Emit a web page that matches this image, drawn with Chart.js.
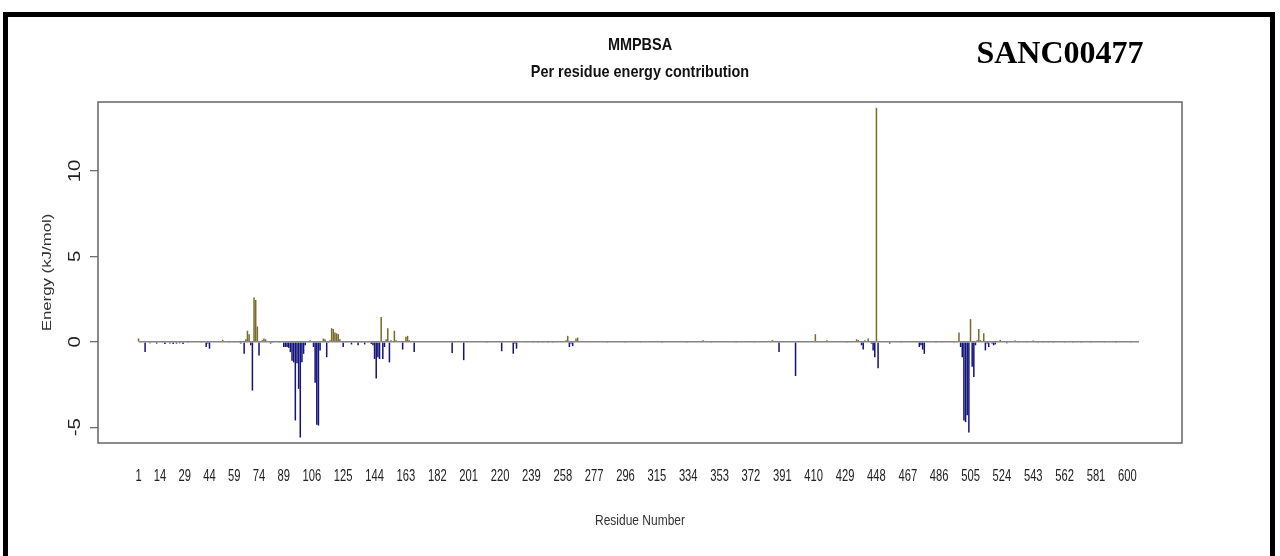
<!DOCTYPE html>
<html>
<head>
<meta charset="utf-8">
<script src="https://cdn.jsdelivr.net/npm/chart.js@4.4.1/dist/chart.umd.min.js"></script>
<style>
  html, body { margin: 0; padding: 0; background: #fff; }
  #wrap { position: relative; width: 1280px; height: 556px; overflow: hidden; background: #fff; }
  #chart { position: absolute; left: 0; top: 0; }
  #frame { position: absolute; left: 3px; top: 12px; width: 1272px; height: 570px; border: 5px solid #000; box-sizing: border-box; pointer-events: none; }
</style>
</head>
<body>
<div id="wrap">
  <canvas id="chart" width="1280" height="556"></canvas>
  <div id="frame"></div>
</div>
<script>
// per residue energy (kJ/mol), residues 1..607, ten per row
const energy = [
  0.2, 0, 0.05, 0, -0.6, 0, 0, -0.08, 0, 0,
  0, -0.1, 0, 0, -0.05, 0, -0.12, 0, 0, -0.1,
  0, -0.12, 0, -0.1, 0, -0.08, 0, -0.12, 0, 0.05,
  -0.05, 0, 0, 0, 0.05, 0, 0, 0, -0.05, 0,
  0, -0.3, -0.1, -0.4, 0, 0, 0.03, 0, 0, 0,
  0, 0.12, 0.05, 0, 0, -0.05, 0, 0, -0.05, 0,
  0, -0.05, -0.1, 0, -0.7, 0.15, 0.65, 0.45, -0.2, -2.85,
  2.6, 2.45, 0.9, -0.8, 0.05, 0.1, 0.2, 0.15, 0.05, 0,
  -0.1, -0.05, 0, 0.03, 0, -0.05, 0, 0, -0.3, -0.3,
  -0.3, -0.35, -0.6, -1.1, -1.2, -4.6, -1.25, -2.75, -5.6, -1.2,
  -0.7, -0.2, 0.05, -0.05, 0.1, 0, -0.3, -2.4, -4.85, -4.9,
  -0.5, 0.05, 0.2, 0.15, -0.9, -0.05, 0.1, 0.8, 0.75, 0.55,
  0.5, 0.45, 0.15, 0, -0.3, 0, -0.05, 0, 0, -0.15,
  0, -0.05, 0, -0.2, 0, -0.05, 0, -0.15, 0, -0.05,
  0, -0.12, -0.2, -1.0, -2.15, -0.9, -1.0, 1.45, -1.0, -0.3,
  0.15, 0.8, -1.2, 0.1, 0.05, 0.65, 0.1, 0, 0.05, 0,
  -0.45, 0, 0.3, 0.35, 0.1, 0, 0, -0.6, 0, 0,
  0, 0, 0.03, 0, 0, 0, 0, 0, 0, 0,
  0, 0, 0, 0, 0, 0, 0, 0, 0, 0,
  -0.65, 0, 0, 0, 0, 0, 0, -1.07, 0, 0,
  0, 0, 0, 0, 0.03, 0, 0, 0, 0, 0.05,
  0, -0.05, 0, 0.05, 0, 0, 0, 0, 0, 0,
  -0.55, 0, 0, 0.05, 0, 0, 0, -0.7, -0.1, -0.4,
  0, 0.05, 0, 0, 0, -0.03, 0, 0, 0, -0.05,
  0, 0, -0.05, 0, 0, -0.05, 0, 0, -0.05, 0,
  0, -0.05, 0, 0, 0.03, 0, 0, 0, 0, 0.1,
  0.35, -0.3, -0.1, -0.25, 0.05, 0.2, 0.25, 0, 0, 0,
  0, 0, 0, 0, 0, 0, 0, 0, 0, 0,
  0, 0, 0, 0, -0.05, 0, 0, 0, 0, 0.05,
  0, 0, 0, 0, 0, -0.05, 0, 0, 0, 0.05,
  0, 0, 0, 0, -0.05, 0, 0, 0, 0, 0,
  0, 0.05, 0, 0, 0, 0, 0, -0.05, 0, 0,
  0, 0, 0, 0, 0.05, 0, 0, 0, 0, 0,
  0, 0, -0.05, 0, 0, 0, 0, 0.03, 0, 0,
  0, 0, 0.1, 0.05, 0, 0, 0, -0.05, 0, 0,
  0, 0, 0, 0, 0.03, 0, 0, 0, 0, 0,
  0, 0, -0.05, 0, 0, 0, 0, 0.05, 0, 0,
  0, 0, 0, -0.05, 0, 0, 0, 0, 0, 0,
  0, 0, 0, 0, 0.1, 0, 0, 0, -0.6, 0,
  0, 0, 0, 0, 0.03, 0, 0, 0, -2.0, 0,
  0, 0, 0, 0.05, 0, 0, 0, 0, 0, 0,
  0.45, 0, 0.05, 0, 0, 0, 0, 0.1, 0, 0,
  0, 0, 0, 0, 0.05, 0, 0, 0, 0, -0.05,
  0, 0, 0, 0.05, 0, 0.15, 0.1, 0, -0.2, -0.45,
  0.1, 0.05, 0.2, 0, -0.1, -0.5, -0.9, 13.7, -1.55, 0,
  0, 0.03, 0, 0, 0, -0.1, 0, 0, 0, 0,
  0, 0, -0.05, 0, 0, 0, 0, 0.03, 0, 0,
  0, 0, 0, -0.3, -0.2, -0.45, -0.7, 0, 0, 0.05,
  0, 0, 0, -0.05, 0, 0, 0, -0.05, 0, 0,
  0, 0.05, 0, 0, -0.05, 0, 0.05, 0.55, -0.3, -0.9,
  -4.6, -4.7, -4.3, -5.3, 1.33, -1.45, -2.05, -0.2, 0.1, 0.75,
  0.1, 0.05, 0.5, -0.5, -0.1, -0.3, 0.05, -0.1, -0.2, -0.15,
  0.05, 0, 0.12, 0, 0.05, 0, -0.08, 0, 0, 0.05,
  0, 0.08, 0, -0.05, 0, 0.05, 0, 0, -0.05, 0,
  0, 0, 0.08, 0, 0, -0.05, 0, 0, -0.05, 0,
  0, -0.05, 0, 0, -0.05, 0, 0, 0.03, 0, 0,
  0, -0.05, 0, 0, 0.05, 0, -0.05, 0, 0.05, 0,
  0, -0.05, 0, 0, 0.05, 0, 0, -0.05, 0, 0,
  0, 0, 0.05, 0, 0, -0.05, 0, 0, 0.03, 0,
  0, 0, -0.05, 0, 0, 0, 0.03, 0, 0, 0,
  0, -0.05, 0, 0, 0, 0.03, 0
];
const residues = energy.map((v, i) => i + 1);

const xTickLabels = [1, 14, 29, 44, 59, 74, 89, 106, 125, 144, 163, 182, 201, 220, 239, 258, 277,
  296, 315, 334, 353, 372, 391, 410, 429, 448, 467, 486, 505, 524, 543, 562, 581, 600];
const yTickLabels = [-5, 0, 5, 10];

const OLIVE = '#7a6a2c';
const NAVY = '#14147c';
const SANS = '"Liberation Sans", Arial, sans-serif';

// text squeezed (sx < 1) or stretched along its own direction
function drawText(ctx, text, x, y, font, sx, angle) {
  ctx.save();
  ctx.translate(x, y);
  if (angle) ctx.rotate(angle);
  ctx.scale(sx, 1);
  ctx.font = font;
  ctx.fillText(text, 0, 0);
  ctx.restore();
}

// box, axis labels and the headings
const decorations = {
  id: 'decorations',
  afterDraw(chart) {
    const ctx = chart.ctx;
    const area = chart.chartArea;
    const xScale = chart.scales.x;
    const yScale = chart.scales.y;
    ctx.save();

    ctx.strokeStyle = '#6e6e6e';
    ctx.lineWidth = 1.6;
    ctx.strokeRect(area.left, area.top, area.right - area.left, area.bottom - area.top);

    ctx.textAlign = 'center';
    ctx.textBaseline = 'middle';

    ctx.fillStyle = '#222';
    yScale.ticks.forEach(t => {
      drawText(ctx, String(t.value), 75, yScale.getPixelForValue(t.value), '17px ' + SANS, 1.2, -Math.PI / 2);
    });
    xScale.ticks.forEach(t => {
      drawText(ctx, String(t.value), xScale.getPixelForValue(t.value), 477, '16px ' + SANS, 0.7, 0);
    });

    ctx.fillStyle = '#333';
    drawText(ctx, 'Energy (kJ/mol)', 47.5, (area.top + area.bottom) / 2, '12px ' + SANS, 1.4, -Math.PI / 2);
    drawText(ctx, 'Residue Number', (area.left + area.right) / 2, 521, '15px ' + SANS, 0.8, 0);

    const cx = (area.left + area.right) / 2;
    ctx.fillStyle = '#111';
    drawText(ctx, 'MMPBSA', cx, 45, 'bold 17px ' + SANS, 0.85, 0);
    drawText(ctx, 'Per residue energy contribution', cx, 72, 'bold 17px ' + SANS, 0.85, 0);

    ctx.fillStyle = '#000';
    ctx.textBaseline = 'alphabetic';
    ctx.font = 'bold 32px "Liberation Serif", "Times New Roman", serif';
    ctx.fillText('SANC00477', 1060, 63);

    ctx.restore();
  }
};

new Chart(document.getElementById('chart'), {
  type: 'bar',
  data: {
    datasets: [
      {
        type: 'line',
        data: residues.map(r => ({ x: r, y: 0 })),
        borderColor: '#858585',
        borderWidth: 1.5,
        pointRadius: 0,
        order: 0
      },
      {
        type: 'bar',
        data: residues.map((r, i) => ({ x: r, y: energy[i] })),
        backgroundColor: energy.map(v => v >= 0 ? OLIVE : NAVY),
        barPercentage: 0.92,
        categoryPercentage: 1,
        order: 1
      }
    ]
  },
  options: {
    responsive: false,
    animation: false,
    layout: { padding: { left: 0, right: 98, top: 102, bottom: 0 } },
    plugins: {
      legend: { display: false },
      tooltip: { enabled: false }
    },
    scales: {
      x: {
        type: 'linear',
        offset: false,
        min: -23.53,
        max: 633.1,
        afterBuildTicks: scale => { scale.ticks = xTickLabels.map(v => ({ value: v })); },
        afterFit: scale => { scale.height = 113; },
        grid: { display: false, drawTicks: false },
        border: { display: false },
        ticks: { display: false, autoSkip: false }
      },
      y: {
        min: -5.92,
        max: 14.04,
        afterBuildTicks: scale => { scale.ticks = yTickLabels.map(v => ({ value: v })); },
        afterFit: scale => { scale.width = 98; },
        grid: { drawOnChartArea: false, drawTicks: true, tickLength: 8, color: '#6e6e6e', lineWidth: 1.3 },
        border: { display: false },
        ticks: { display: false }
      }
    }
  },
  plugins: [decorations]
});
</script>
</body>
</html>
